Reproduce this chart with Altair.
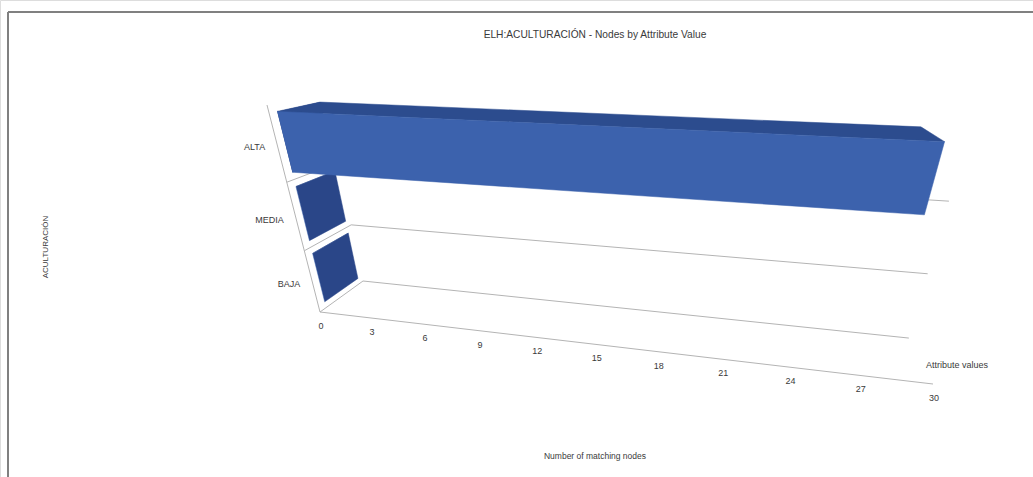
import altair as alt
import pandas as pd

# Chart content
categories = ["BAJA", "MEDIA", "ALTA"]
node_counts = [0, 0, 28]
value_ticks = [0, 3, 6, 9, 12, 15, 18, 21, 24, 27, 30]
value_max = 30

TITLE = "ELH:ACULTURACIÓN - Nodes by Attribute Value"
CAT_TITLE = "ACULTURACIÓN"
VAL_TITLE = "Number of matching nodes"
SERIES_TITLE = "Attribute values"

FONT = "Liberation Sans"
TEXT = "#3a3a3a"
GRID = "#b4b4b4"
FRAME = "#808080"
FRONT = "#3c62ad"
TOP = "#2c4c8e"
SIDE = "#2a4688"

W, H = 1033, 477

# Perspective camera: unit box (u = value, d = depth, h = category height) to page pixels.
ORIGIN = (320, 312)
U_END = (933, 384)
D_END = (363, 281)
H_END = (267, 105)
KU, KD, KH = 0.818, 1.115, 0.84


def project(value, depth, height):
    u = value / value_max
    h = height / len(categories)
    den = 1 + (KU - 1) * u + (KD - 1) * depth + (KH - 1) * h
    pos = []
    for i in (0, 1):
        o = ORIGIN[i]
        num = (o + u * (KU * U_END[i] - o) + depth * (KD * D_END[i] - o)
               + h * (KH * H_END[i] - o))
        pos.append(num / den)
    return pos


BAR_D0, BAR_D1 = 0.13, 0.9
BAR_PAD = 0.1

# Box faces of every bar
faces = {"side": [], "front": [], "top": []}
for slot, (cat, count) in enumerate(zip(categories, node_counts)):
    h0, h1 = slot + BAR_PAD, slot + 1 - BAR_PAD
    outlines = {
        "side": [(0, BAR_D0, h0), (0, BAR_D1, h0), (0, BAR_D1, h1), (0, BAR_D0, h1)],
        "front": [(0, BAR_D0, h0), (count, BAR_D0, h0), (count, BAR_D0, h1), (0, BAR_D0, h1)],
        "top": [(0, BAR_D0, h1), (count, BAR_D0, h1), (count, BAR_D1, h1), (0, BAR_D1, h1)],
    }
    for kind, corners in outlines.items():
        for i, corner in enumerate(corners):
            x, y = project(*corner)
            faces[kind].append({"face": f"{cat}-{kind}", "i": i, "x": x, "y": y})

# Walls and floor
grid_rows = []


def add_line(name, start, end):
    for i, p in enumerate((start, end)):
        x, y = project(*p)
        grid_rows.append({"line": name, "i": i, "x": x, "y": y})


add_line("floor-front", (0, 0, 0), (value_max, 0, 0))
add_line("cat-axis", (0, 0, 0), (0, 0, len(categories)))
for slot in range(len(categories)):
    add_line(f"back-{slot}", (0, 1, slot), (value_max, 1, slot))
    add_line(f"depth-{slot}", (0, 0, slot), (0, 1, slot))

xs = alt.Scale(domain=[0, W], range=[0, W], nice=False, zero=False)
ys = alt.Scale(domain=[0, H], range=[0, H], nice=False, zero=False)
enc_x = alt.X("x:Q", scale=xs, axis=None)
enc_y = alt.Y("y:Q", scale=ys, axis=None)

grid = alt.Chart(pd.DataFrame(grid_rows)).mark_line(stroke=GRID, strokeWidth=1).encode(
    x=enc_x, y=enc_y, detail="line:N", order="i:Q"
)


def face_layer(kind, color):
    return alt.Chart(pd.DataFrame(faces[kind])).mark_line(
        fill=color, stroke=color, strokeWidth=0.5
    ).encode(x=enc_x, y=enc_y, detail="face:N", order="i:Q")


def text_layer(rows, **style):
    return alt.Chart(pd.DataFrame(rows)).mark_text(
        font=FONT, color=TEXT, **style
    ).encode(x=enc_x, y=enc_y, text="label:N")


tick_rows = []
for v in value_ticks:
    x, y = project(v, 0, 0)
    tick_rows.append({"label": str(v), "x": x, "y": y})

cat_rows = []
for slot, cat in enumerate(categories):
    x, y = project(0, 0, slot + 0.5)
    cat_rows.append({"label": cat, "x": x, "y": y})

frame = alt.Chart(pd.DataFrame({"k": ["left", "top"],
                                "px": [8, 8], "px2": [8, W],
                                "py": [12, 12], "py2": [H, 12]})).mark_rule(
    stroke=FRAME, strokeWidth=2
).encode(
    x=alt.X("px:Q", scale=xs, axis=None), x2="px2:Q",
    y=alt.Y("py:Q", scale=ys, axis=None), y2="py2:Q",
)

chart = alt.layer(
    frame,
    grid,
    face_layer("side", SIDE),
    face_layer("top", TOP),
    face_layer("front", FRONT),
    text_layer(tick_rows, fontSize=9, dx=1, dy=14),
    text_layer(cat_rows, fontSize=9, align="right", dx=-12, dy=2),
    text_layer([{"label": TITLE, "x": 595, "y": 35}], fontSize=10.2),
    text_layer([{"label": VAL_TITLE, "x": 595, "y": 456}], fontSize=8.5),
    text_layer([{"label": SERIES_TITLE, "x": 957, "y": 365}], fontSize=9),
    text_layer([{"label": CAT_TITLE, "x": 46, "y": 247}], fontSize=8, angle=270),
).properties(
    width=W, height=H, padding=0, autosize=alt.AutoSizeParams(type="none")
).configure_view(stroke=None).configure(background="#ffffff")

chart.save("out.html", embed_options={"renderer": "svg", "actions": False})
